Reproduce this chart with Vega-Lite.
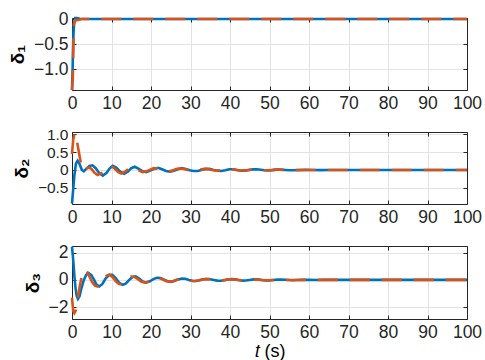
{
  "$schema": "https://vega.github.io/schema/vega-lite/v6.json",
  "padding": {"top": 10, "left": 8, "right": 0, "bottom": 0},
  "background": "white",
  "config": {
    "view": {"stroke": null},
    "axis": {
      "labelFont": "Liberation Sans", "labelFontSize": 17.5, "labelColor": "#262626",
      "titleFont": "Liberation Sans", "titleColor": "#000000",
      "domainColor": "#262626", "tickColor": "#262626", "gridColor": "#e3e3e3",
      "tickSize": -4, "labelPadding": 8, "labelOverlap": false, "labelFlush": false, "labelBound": false
    }
  },
  "datasets": {
    "d": [
      {"p":1,"s":"b","t":0,"v":-1.42},{"p":1,"s":"b","t":0.15,"v":-1.0},{"p":1,"s":"b","t":0.3,"v":-0.45},{"p":1,"s":"b","t":0.5,"v":-0.1},{"p":1,"s":"b","t":0.8,"v":0.02},{"p":1,"s":"b","t":1.2,"v":0.02},{"p":1,"s":"b","t":2,"v":0.005},{"p":1,"s":"b","t":3,"v":0},{"p":1,"s":"b","t":30,"v":0},{"p":1,"s":"b","t":60,"v":0},{"p":1,"s":"b","t":100,"v":0},
      {"p":1,"s":"o","t":0,"v":-1.42},{"p":1,"s":"o","t":0.2,"v":-1.2},{"p":1,"s":"o","t":0.35,"v":-0.5},{"p":1,"s":"o","t":0.5,"v":-0.1},{"p":1,"s":"o","t":0.8,"v":-0.03},{"p":1,"s":"o","t":1.5,"v":-0.02},{"p":1,"s":"o","t":2.5,"v":0},{"p":1,"s":"o","t":30,"v":0},{"p":1,"s":"o","t":60,"v":0},{"p":1,"s":"o","t":100,"v":0},

      {"p":2,"s":"b","t":0,"v":-0.95},{"p":2,"s":"b","t":0.3,"v":-0.55},{"p":2,"s":"b","t":0.6,"v":-0.15},{"p":2,"s":"b","t":1.0,"v":0.18},{"p":2,"s":"b","t":1.4,"v":0.26},{"p":2,"s":"b","t":1.9,"v":0.17},{"p":2,"s":"b","t":2.5,"v":0.0},{"p":2,"s":"b","t":3.0,"v":-0.04},{"p":2,"s":"b","t":3.6,"v":0.03},{"p":2,"s":"b","t":4.4,"v":0.11},{"p":2,"s":"b","t":5.2,"v":0.13},{"p":2,"s":"b","t":6.0,"v":0.05},{"p":2,"s":"b","t":6.9,"v":-0.09},{"p":2,"s":"b","t":7.8,"v":-0.16},{"p":2,"s":"b","t":8.7,"v":-0.09},{"p":2,"s":"b","t":9.5,"v":0.04},{"p":2,"s":"b","t":10.3,"v":0.12},{"p":2,"s":"b","t":11.2,"v":0.07},{"p":2,"s":"b","t":12.2,"v":-0.05},{"p":2,"s":"b","t":13.2,"v":-0.11},{"p":2,"s":"b","t":14.2,"v":-0.04},{"p":2,"s":"b","t":15.0,"v":0.05},{"p":2,"s":"b","t":15.9,"v":0.09},{"p":2,"s":"b","t":16.9,"v":0.03},{"p":2,"s":"b","t":17.9,"v":-0.04},{"p":2,"s":"b","t":18.8,"v":-0.06},{"p":2,"s":"b","t":19.8,"v":-0.02},{"p":2,"s":"b","t":20.8,"v":0.03},{"p":2,"s":"b","t":21.8,"v":0.06},{"p":2,"s":"b","t":22.8,"v":0.02},{"p":2,"s":"b","t":23.8,"v":-0.03},{"p":2,"s":"b","t":24.8,"v":-0.05},{"p":2,"s":"b","t":25.8,"v":-0.02},{"p":2,"s":"b","t":26.8,"v":0.02},{"p":2,"s":"b","t":27.8,"v":0.05},{"p":2,"s":"b","t":28.8,"v":0.03},{"p":2,"s":"b","t":29.8,"v":-0.01},{"p":2,"s":"b","t":30.8,"v":-0.03},{"p":2,"s":"b","t":31.8,"v":-0.03},{"p":2,"s":"b","t":32.8,"v":0.0},{"p":2,"s":"b","t":33.8,"v":0.03},{"p":2,"s":"b","t":34.8,"v":0.03},{"p":2,"s":"b","t":35.8,"v":0.0},{"p":2,"s":"b","t":36.8,"v":-0.02},{"p":2,"s":"b","t":37.8,"v":-0.03},{"p":2,"s":"b","t":38.8,"v":-0.01},{"p":2,"s":"b","t":39.8,"v":0.02},{"p":2,"s":"b","t":40.8,"v":0.02},{"p":2,"s":"b","t":41.8,"v":0.0},{"p":2,"s":"b","t":42.8,"v":-0.02},{"p":2,"s":"b","t":43.8,"v":-0.02},{"p":2,"s":"b","t":44.8,"v":0.0},{"p":2,"s":"b","t":45.8,"v":0.015},{"p":2,"s":"b","t":46.8,"v":0.02},{"p":2,"s":"b","t":47.8,"v":0.005},{"p":2,"s":"b","t":48.8,"v":-0.01},{"p":2,"s":"b","t":49.8,"v":-0.015},{"p":2,"s":"b","t":50.8,"v":-0.005},{"p":2,"s":"b","t":51.8,"v":0.01},{"p":2,"s":"b","t":52.8,"v":0.01},{"p":2,"s":"b","t":54,"v":0.0},{"p":2,"s":"b","t":55,"v":-0.01},{"p":2,"s":"b","t":56,"v":-0.01},{"p":2,"s":"b","t":57.5,"v":0.0},{"p":2,"s":"b","t":59,"v":0.005},{"p":2,"s":"b","t":61,"v":0.0},{"p":2,"s":"b","t":63,"v":-0.005},{"p":2,"s":"b","t":65,"v":0.0},{"p":2,"s":"b","t":70,"v":0},{"p":2,"s":"b","t":80,"v":0},{"p":2,"s":"b","t":90,"v":0},{"p":2,"s":"b","t":100,"v":0},

      {"p":2,"s":"o","t":0,"v":0.45},{"p":2,"s":"o","t":0.3,"v":0.85},{"p":2,"s":"o","t":0.7,"v":1.05},{"p":2,"s":"o","t":1.0,"v":0.98},{"p":2,"s":"o","t":1.4,"v":0.72},{"p":2,"s":"o","t":1.9,"v":0.4},{"p":2,"s":"o","t":2.4,"v":0.1},{"p":2,"s":"o","t":2.9,"v":-0.02},{"p":2,"s":"o","t":3.5,"v":0.03},{"p":2,"s":"o","t":4.2,"v":0.07},{"p":2,"s":"o","t":4.9,"v":0.03},{"p":2,"s":"o","t":5.7,"v":-0.08},{"p":2,"s":"o","t":6.5,"v":-0.14},{"p":2,"s":"o","t":7.4,"v":-0.1},{"p":2,"s":"o","t":8.3,"v":0.0},{"p":2,"s":"o","t":9.1,"v":0.09},{"p":2,"s":"o","t":9.9,"v":0.11},{"p":2,"s":"o","t":10.8,"v":0.04},{"p":2,"s":"o","t":11.7,"v":-0.06},{"p":2,"s":"o","t":12.5,"v":-0.1},{"p":2,"s":"o","t":13.4,"v":-0.05},{"p":2,"s":"o","t":14.3,"v":0.03},{"p":2,"s":"o","t":15.2,"v":0.08},{"p":2,"s":"o","t":16.1,"v":0.05},{"p":2,"s":"o","t":17.0,"v":-0.02},{"p":2,"s":"o","t":17.9,"v":-0.06},{"p":2,"s":"o","t":18.8,"v":-0.04},{"p":2,"s":"o","t":19.8,"v":0.01},{"p":2,"s":"o","t":20.7,"v":0.05},{"p":2,"s":"o","t":21.6,"v":0.04},{"p":2,"s":"o","t":22.6,"v":0.0},{"p":2,"s":"o","t":23.6,"v":-0.04},{"p":2,"s":"o","t":24.6,"v":-0.04},{"p":2,"s":"o","t":25.6,"v":-0.01},{"p":2,"s":"o","t":26.6,"v":0.03},{"p":2,"s":"o","t":27.6,"v":0.04},{"p":2,"s":"o","t":28.6,"v":0.02},{"p":2,"s":"o","t":29.6,"v":-0.01},{"p":2,"s":"o","t":30.6,"v":-0.03},{"p":2,"s":"o","t":31.6,"v":-0.02},{"p":2,"s":"o","t":32.6,"v":0.01},{"p":2,"s":"o","t":33.6,"v":0.03},{"p":2,"s":"o","t":34.6,"v":0.02},{"p":2,"s":"o","t":35.6,"v":0.0},{"p":2,"s":"o","t":36.6,"v":-0.02},{"p":2,"s":"o","t":37.6,"v":-0.02},{"p":2,"s":"o","t":38.6,"v":0.0},{"p":2,"s":"o","t":39.6,"v":0.02},{"p":2,"s":"o","t":40.6,"v":0.015},{"p":2,"s":"o","t":41.6,"v":0.0},{"p":2,"s":"o","t":42.6,"v":-0.015},{"p":2,"s":"o","t":43.6,"v":-0.015},{"p":2,"s":"o","t":44.6,"v":0.0},{"p":2,"s":"o","t":45.6,"v":0.01},{"p":2,"s":"o","t":46.6,"v":0.015},{"p":2,"s":"o","t":47.6,"v":0.005},{"p":2,"s":"o","t":48.6,"v":-0.01},{"p":2,"s":"o","t":49.6,"v":-0.01},{"p":2,"s":"o","t":50.6,"v":0.0},{"p":2,"s":"o","t":51.6,"v":0.008},{"p":2,"s":"o","t":52.6,"v":0.008},{"p":2,"s":"o","t":54,"v":0.0},{"p":2,"s":"o","t":55.5,"v":-0.005},{"p":2,"s":"o","t":57,"v":-0.005},{"p":2,"s":"o","t":59,"v":0.0},{"p":2,"s":"o","t":62,"v":0.0},{"p":2,"s":"o","t":70,"v":0},{"p":2,"s":"o","t":80,"v":0},{"p":2,"s":"o","t":90,"v":0},{"p":2,"s":"o","t":100,"v":0},

      {"p":3,"s":"b","t":0,"v":2.45},{"p":3,"s":"b","t":0.3,"v":1.5},{"p":3,"s":"b","t":0.6,"v":0.3},{"p":3,"s":"b","t":0.9,"v":-0.6},{"p":3,"s":"b","t":1.2,"v":-1.2},{"p":3,"s":"b","t":1.5,"v":-1.4},{"p":3,"s":"b","t":1.9,"v":-1.2},{"p":3,"s":"b","t":2.4,"v":-0.6},{"p":3,"s":"b","t":3.0,"v":0.0},{"p":3,"s":"b","t":3.6,"v":0.38},{"p":3,"s":"b","t":4.2,"v":0.5},{"p":3,"s":"b","t":4.9,"v":0.35},{"p":3,"s":"b","t":5.6,"v":0.0},{"p":3,"s":"b","t":6.2,"v":-0.35},{"p":3,"s":"b","t":6.9,"v":-0.48},{"p":3,"s":"b","t":7.7,"v":-0.3},{"p":3,"s":"b","t":8.5,"v":0.1},{"p":3,"s":"b","t":9.4,"v":0.37},{"p":3,"s":"b","t":10.2,"v":0.38},{"p":3,"s":"b","t":11.0,"v":0.15},{"p":3,"s":"b","t":11.9,"v":-0.2},{"p":3,"s":"b","t":12.8,"v":-0.36},{"p":3,"s":"b","t":13.6,"v":-0.28},{"p":3,"s":"b","t":14.5,"v":0.0},{"p":3,"s":"b","t":15.3,"v":0.22},{"p":3,"s":"b","t":16.1,"v":0.26},{"p":3,"s":"b","t":17.0,"v":0.1},{"p":3,"s":"b","t":17.9,"v":-0.12},{"p":3,"s":"b","t":18.8,"v":-0.2},{"p":3,"s":"b","t":19.7,"v":-0.1},{"p":3,"s":"b","t":20.6,"v":0.06},{"p":3,"s":"b","t":21.5,"v":0.16},{"p":3,"s":"b","t":22.4,"v":0.14},{"p":3,"s":"b","t":23.3,"v":0.02},{"p":3,"s":"b","t":24.2,"v":-0.1},{"p":3,"s":"b","t":25.1,"v":-0.14},{"p":3,"s":"b","t":26.0,"v":-0.07},{"p":3,"s":"b","t":26.9,"v":0.04},{"p":3,"s":"b","t":27.8,"v":0.1},{"p":3,"s":"b","t":28.7,"v":0.09},{"p":3,"s":"b","t":29.6,"v":0.0},{"p":3,"s":"b","t":30.5,"v":-0.07},{"p":3,"s":"b","t":31.4,"v":-0.08},{"p":3,"s":"b","t":32.3,"v":-0.03},{"p":3,"s":"b","t":33.2,"v":0.04},{"p":3,"s":"b","t":34.1,"v":0.07},{"p":3,"s":"b","t":35.0,"v":0.05},{"p":3,"s":"b","t":35.9,"v":0.0},{"p":3,"s":"b","t":36.8,"v":-0.05},{"p":3,"s":"b","t":37.7,"v":-0.06},{"p":3,"s":"b","t":38.6,"v":-0.02},{"p":3,"s":"b","t":39.5,"v":0.03},{"p":3,"s":"b","t":40.4,"v":0.06},{"p":3,"s":"b","t":41.3,"v":0.04},{"p":3,"s":"b","t":42.2,"v":-0.01},{"p":3,"s":"b","t":43.1,"v":-0.05},{"p":3,"s":"b","t":44,"v":-0.04},{"p":3,"s":"b","t":45,"v":0.0},{"p":3,"s":"b","t":46,"v":0.04},{"p":3,"s":"b","t":47,"v":0.04},{"p":3,"s":"b","t":48,"v":0.0},{"p":3,"s":"b","t":49,"v":-0.03},{"p":3,"s":"b","t":50,"v":-0.035},{"p":3,"s":"b","t":51,"v":-0.01},{"p":3,"s":"b","t":52,"v":0.02},{"p":3,"s":"b","t":53,"v":0.025},{"p":3,"s":"b","t":54,"v":0.01},{"p":3,"s":"b","t":55,"v":-0.01},{"p":3,"s":"b","t":56,"v":-0.02},{"p":3,"s":"b","t":57,"v":-0.005},{"p":3,"s":"b","t":58.5,"v":0.01},{"p":3,"s":"b","t":60,"v":0.005},{"p":3,"s":"b","t":62,"v":-0.005},{"p":3,"s":"b","t":64,"v":0.0},{"p":3,"s":"b","t":70,"v":0},{"p":3,"s":"b","t":80,"v":0},{"p":3,"s":"b","t":90,"v":0},{"p":3,"s":"b","t":100,"v":0},

      {"p":3,"s":"o","t":0,"v":-1.3},{"p":3,"s":"o","t":0.3,"v":-2.3},{"p":3,"s":"o","t":0.6,"v":-2.45},{"p":3,"s":"o","t":0.9,"v":-2.3},{"p":3,"s":"o","t":1.2,"v":-1.9},{"p":3,"s":"o","t":1.6,"v":-1.1},{"p":3,"s":"o","t":2.0,"v":-0.4},{"p":3,"s":"o","t":2.5,"v":0.3},{"p":3,"s":"o","t":3.0,"v":0.7},{"p":3,"s":"o","t":3.4,"v":0.75},{"p":3,"s":"o","t":3.9,"v":0.55},{"p":3,"s":"o","t":4.5,"v":0.2},{"p":3,"s":"o","t":5.1,"v":-0.15},{"p":3,"s":"o","t":5.8,"v":-0.42},{"p":3,"s":"o","t":6.5,"v":-0.48},{"p":3,"s":"o","t":7.2,"v":-0.3},{"p":3,"s":"o","t":8.0,"v":0.05},{"p":3,"s":"o","t":8.8,"v":0.32},{"p":3,"s":"o","t":9.5,"v":0.38},{"p":3,"s":"o","t":10.3,"v":0.2},{"p":3,"s":"o","t":11.1,"v":-0.1},{"p":3,"s":"o","t":11.9,"v":-0.3},{"p":3,"s":"o","t":12.6,"v":-0.32},{"p":3,"s":"o","t":13.4,"v":-0.15},{"p":3,"s":"o","t":14.2,"v":0.1},{"p":3,"s":"o","t":15.0,"v":0.25},{"p":3,"s":"o","t":15.8,"v":0.22},{"p":3,"s":"o","t":16.7,"v":0.05},{"p":3,"s":"o","t":17.6,"v":-0.14},{"p":3,"s":"o","t":18.5,"v":-0.2},{"p":3,"s":"o","t":19.4,"v":-0.12},{"p":3,"s":"o","t":20.3,"v":0.04},{"p":3,"s":"o","t":21.2,"v":0.15},{"p":3,"s":"o","t":22.1,"v":0.14},{"p":3,"s":"o","t":23.0,"v":0.03},{"p":3,"s":"o","t":23.9,"v":-0.09},{"p":3,"s":"o","t":24.8,"v":-0.13},{"p":3,"s":"o","t":25.7,"v":-0.08},{"p":3,"s":"o","t":26.6,"v":0.03},{"p":3,"s":"o","t":27.5,"v":0.1},{"p":3,"s":"o","t":28.4,"v":0.1},{"p":3,"s":"o","t":29.3,"v":0.02},{"p":3,"s":"o","t":30.2,"v":-0.06},{"p":3,"s":"o","t":31.1,"v":-0.08},{"p":3,"s":"o","t":32.0,"v":-0.04},{"p":3,"s":"o","t":32.9,"v":0.03},{"p":3,"s":"o","t":33.8,"v":0.07},{"p":3,"s":"o","t":34.7,"v":0.06},{"p":3,"s":"o","t":35.6,"v":0.01},{"p":3,"s":"o","t":36.5,"v":-0.04},{"p":3,"s":"o","t":37.4,"v":-0.05},{"p":3,"s":"o","t":38.3,"v":-0.02},{"p":3,"s":"o","t":39.2,"v":0.02},{"p":3,"s":"o","t":40.1,"v":0.04},{"p":3,"s":"o","t":41.0,"v":0.03},{"p":3,"s":"o","t":42.0,"v":0.0},{"p":3,"s":"o","t":43.0,"v":-0.03},{"p":3,"s":"o","t":44.0,"v":-0.03},{"p":3,"s":"o","t":45,"v":0.0},{"p":3,"s":"o","t":46,"v":0.025},{"p":3,"s":"o","t":47,"v":0.025},{"p":3,"s":"o","t":48,"v":0.0},{"p":3,"s":"o","t":49,"v":-0.02},{"p":3,"s":"o","t":50,"v":-0.02},{"p":3,"s":"o","t":51,"v":0.0},{"p":3,"s":"o","t":52,"v":0.015},{"p":3,"s":"o","t":53,"v":0.015},{"p":3,"s":"o","t":54,"v":0.0},{"p":3,"s":"o","t":55.5,"v":-0.01},{"p":3,"s":"o","t":57,"v":-0.01},{"p":3,"s":"o","t":59,"v":0.0},{"p":3,"s":"o","t":61,"v":0.005},{"p":3,"s":"o","t":64,"v":0},{"p":3,"s":"o","t":70,"v":0},{"p":3,"s":"o","t":80,"v":0},{"p":3,"s":"o","t":90,"v":0},{"p":3,"s":"o","t":100,"v":0}
    ]
  },
  "vconcat": [
    {
      "width": 395, "height": 72,
      "data": {"name": "d"},
      "transform": [{"filter": "datum.p == 1"}],
      "resolve": {"axis": {"x": "independent", "y": "independent"}},
      "layer": [
        {
          "transform": [{"filter": "datum.s == 'b'"}],
          "mark": {"type": "line", "color": "#0072BD", "strokeWidth": 2.6},
          "encoding": {
            "x": {"field": "t", "type": "quantitative", "scale": {"domain": [0, 100], "nice": false}, "axis": {"orient": "bottom", "values": [0,10,20,30,40,50,60,70,80,90,100], "title": null, "grid": true}},
            "y": {"field": "v", "type": "quantitative", "scale": {"domain": [-1.42, 0.02], "nice": false, "zero": false}, "axis": {"orient": "left", "values": [-1, -0.5, 0], "labelExpr": "datum.value == 0 ? '0' : format(datum.value, '.1f')", "title": "δ₁", "titleFontSize": 19, "titleFontWeight": "bold", "titlePadding": 6, "grid": true}}
          }
        },
        {
          "transform": [{"filter": "datum.s == 'o'"}],
          "mark": {"type": "line", "color": "#D95319", "strokeWidth": 2.6, "strokeDash": [20, 12]},
          "encoding": {
            "x": {"field": "t", "type": "quantitative", "axis": {"orient": "top", "values": [0,10,20,30,40,50,60,70,80,90,100], "labels": false, "title": null, "grid": false}},
            "y": {"field": "v", "type": "quantitative", "axis": {"orient": "right", "values": [-1, -0.5, 0], "labels": false, "title": null, "grid": false}}
          }
        }
      ]
    },
    {
      "width": 395, "height": 72,
      "data": {"name": "d"},
      "transform": [{"filter": "datum.p == 2"}],
      "resolve": {"axis": {"x": "independent", "y": "independent"}},
      "layer": [
        {
          "transform": [{"filter": "datum.s == 'b'"}],
          "mark": {"type": "line", "color": "#0072BD", "strokeWidth": 2.6},
          "encoding": {
            "x": {"field": "t", "type": "quantitative", "scale": {"domain": [0, 100], "nice": false}, "axis": {"orient": "bottom", "values": [0,10,20,30,40,50,60,70,80,90,100], "title": null, "grid": true}},
            "y": {"field": "v", "type": "quantitative", "scale": {"domain": [-0.96, 1.07], "nice": false, "zero": false}, "axis": {"orient": "left", "values": [-0.5, 0, 0.5, 1], "labelExpr": "datum.value == 0 ? '0' : format(datum.value, '.1f')", "labelFontSize": 15.5, "title": "δ₂", "titleFontSize": 19, "titleFontWeight": "bold", "titlePadding": 6, "grid": true}}
          }
        },
        {
          "transform": [{"filter": "datum.s == 'o'"}],
          "mark": {"type": "line", "color": "#D95319", "strokeWidth": 2.6, "strokeDash": [20, 12]},
          "encoding": {
            "x": {"field": "t", "type": "quantitative", "axis": {"orient": "top", "values": [0,10,20,30,40,50,60,70,80,90,100], "labels": false, "title": null, "grid": false}},
            "y": {"field": "v", "type": "quantitative", "axis": {"orient": "right", "values": [-0.5, 0, 0.5, 1], "labels": false, "title": null, "grid": false}}
          }
        }
      ]
    },
    {
      "width": 395, "height": 73,
      "data": {"name": "d"},
      "transform": [{"filter": "datum.p == 3"}],
      "resolve": {"axis": {"x": "independent", "y": "independent"}},
      "layer": [
        {
          "transform": [{"filter": "datum.s == 'b'"}],
          "mark": {"type": "line", "color": "#0072BD", "strokeWidth": 2.6},
          "encoding": {
            "x": {"field": "t", "type": "quantitative", "scale": {"domain": [0, 100], "nice": false}, "axis": {"orient": "bottom", "values": [0,10,20,30,40,50,60,70,80,90,100], "title": "𝑡 (s)", "titleFontSize": 18, "titleFontWeight": "normal", "titlePadding": 2, "grid": true}},
            "y": {"field": "v", "type": "quantitative", "scale": {"domain": [-2.88, 2.5], "nice": false, "zero": false}, "axis": {"orient": "left", "values": [-2, 0, 2], "format": "d", "title": "δ₃", "titleFontSize": 19, "titleFontWeight": "bold", "titlePadding": 6, "grid": true}}
          }
        },
        {
          "transform": [{"filter": "datum.s == 'o'"}],
          "mark": {"type": "line", "color": "#D95319", "strokeWidth": 2.6, "strokeDash": [20, 12]},
          "encoding": {
            "x": {"field": "t", "type": "quantitative", "axis": {"orient": "top", "values": [0,10,20,30,40,50,60,70,80,90,100], "labels": false, "title": null, "grid": false}},
            "y": {"field": "v", "type": "quantitative", "axis": {"orient": "right", "values": [-2, 0, 2], "labels": false, "title": null, "grid": false}}
          }
        }
      ]
    }
  ],
  "spacing": 42,
  "bounds": "flush"
}
